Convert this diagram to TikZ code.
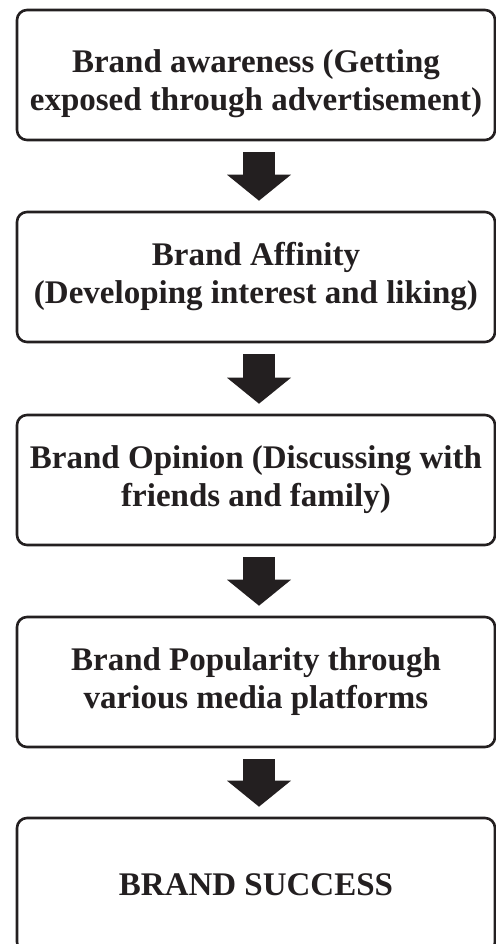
\documentclass[tikz,border=0pt]{standalone}
\usepackage{fontspec}
\setmainfont{Liberation Serif}
\usetikzlibrary{arrows.meta}

\definecolor{inkblack}{HTML}{231F20}

\begin{document}
\begin{tikzpicture}[x=0.5pt,y=-0.5pt,
    stage/.style={draw=inkblack, line width=1.3pt, rounded corners=5pt,
        minimum width=239pt, minimum height=65pt, inner sep=0pt,
        align=center, text=inkblack,
        font=\fontsize{16.5}{19}\selectfont\bfseries},
    push/.style={inkblack, line width=16pt,
        -{Triangle[width=32pt,length=13pt,line width=0pt]},
        shorten <=5.5pt, shorten >=5pt}]
    \useasboundingbox (0,0) rectangle (496,944);
    % the five stages, top to bottom
    \node[stage] (aware) at (256,75)
        {\rule{0pt}{20pt}Brand awareness (Getting\\exposed through advertisement)};
    \node[stage] (affinity) at (256,277)
        {Brand Affinity\\(Developing interest and liking)};
    \node[stage] (opinion) at (256,480)
        {Brand Opinion (Discussing with\\friends and family)};
    \node[stage] (popular) at (256,682)
        {Brand Popularity through\\various media platforms};
    % last box runs off the bottom of the page
    \node[stage, minimum height=67pt] (success) at (256,885) {BRAND SUCCESS};
    % block arrows between them
    \draw[push] ([xshift=1.5pt]aware.south) -- ([xshift=1.5pt]affinity.north);
    \draw[push] ([xshift=1.5pt]affinity.south) -- ([xshift=1.5pt]opinion.north);
    \draw[push] ([xshift=1.5pt]opinion.south) -- ([xshift=1.5pt]popular.north);
    \draw[push] ([xshift=1.5pt]popular.south) -- ([xshift=1.5pt]success.north);
\end{tikzpicture}
\end{document}
